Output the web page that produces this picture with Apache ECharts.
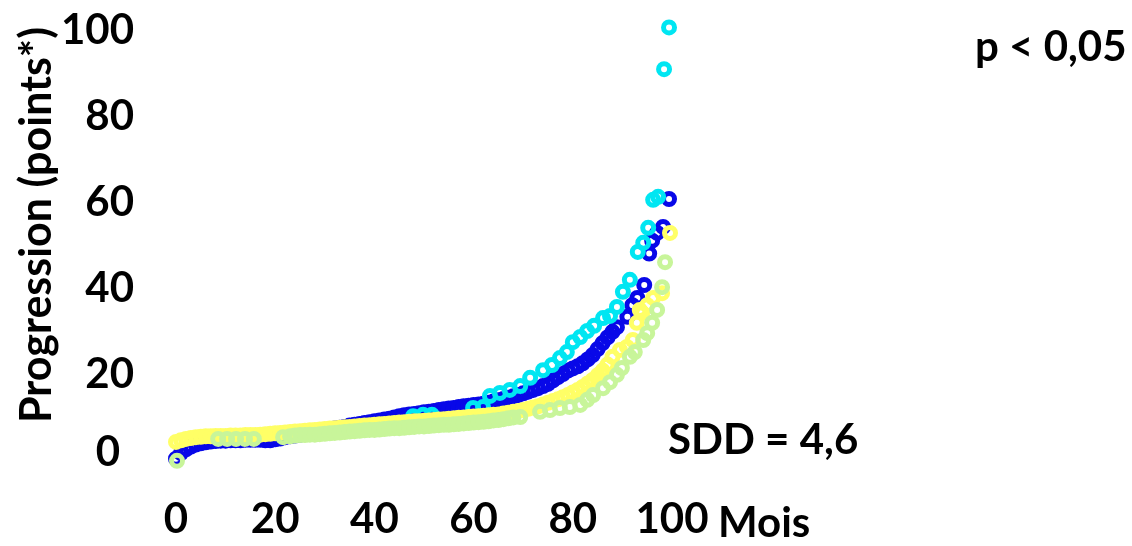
<!DOCTYPE html>
<html>
<head>
<meta charset="utf-8">
<script src="https://cdn.jsdelivr.net/npm/echarts@6/dist/echarts.min.js"></script>
<style>
html,body{margin:0;padding:0;background:#fff;}
#c{width:1132px;height:546px;}
</style>
</head>
<body>
<div id="c"></div>
<script>
// ---- data ----
const xTickLabels = ['0', '20', '40', '60', '80', '100'];
const yTickLabels = ['0', '20', '40', '60', '80', '100'];

const blueX = [0,1,2,3,4,5,6,7,8,9,10,11,12,13,14,15,16,17,18,19,20,21,22,23,24,25,26,27,28,29,30,31,32,33,34,35,36,37,38,39,40,41,42,43,44,45,46,47,48,49,50,51,52,53,54,55,56,57,58,59,60,61,62,63,64,65,66,67,68,69,70,71,72,73,74,75,76,77,78,79,80,81,82,83,84,85,86,87,88,88.9,91,92,93,94.4,95.4,96,97,98.2,99.4];
const blueY = [0.3,1.6,2.5,3.1,3.6,3.9,4.1,4.3,4.4,4.5,4.5,4.6,4.6,4.6,4.7,4.7,4.7,4.7,4.6,4.6,4.8,5.0,5.3,5.5,5.7,5.9,6.1,6.3,6.5,6.7,6.9,7.1,7.3,7.5,7.7,8.0,8.2,8.4,8.6,8.8,9.0,9.2,9.4,9.6,9.9,10.2,10.4,10.6,10.7,10.9,11.1,11.2,11.4,11.6,11.8,12.0,12.1,12.3,12.5,12.6,12.8,12.9,13.1,13.3,13.6,13.9,14.2,14.5,14.8,15.1,15.5,15.9,16.3,16.7,17.2,17.7,18.5,19.3,20.0,20.8,21.3,21.8,22.5,23.4,24.4,25.8,27.2,28.5,29.8,30.9,33.3,36.0,37.7,40.7,48.0,51.0,52.8,54.2,60.7];

const cyanX = [47.8,49.8,51.6,59.9,61.9,63.3,65.3,67.3,69.4,71.4,74.0,75.8,77.4,78.8,80.0,81.5,82.9,84.3,86.1,87.5,88.9,90.1,91.5,93.1,94.2,95.2,96.2,97.2,98.4,99.4];
const cyanY = [10.2,10.5,10.5,12.1,12.3,14.9,15.6,16.3,17.2,19.1,20.9,22.1,23.7,25.1,27.4,28.6,30.0,31.2,33.0,33.5,35.6,39.1,41.9,48.4,50.5,54.0,60.5,61.2,90.9,100.6];

const yellowX = [0,1,2,3,4,5,6,7,8,9,10,11,12,13,14,15,16,17,18,19,20,21,22,23,24,25,26,27,28,29,30,31,32,33,34,35,36,37,38,39,40,41,42,43,44,45,46,47,48,49,50,51,52,53,54,55,56,57,58,59,60,61,62,63,64,65,66,67,68,69,70,71,72,73,74,75,76,77,78,79,80,81,82,83,84,85,86,87,88,89.5,90.9,92.1,92.9,93.5,94.0,95.0,96.2,98.0,99.6];
const yellowY = [4.2,4.6,4.9,5.1,5.3,5.4,5.5,5.5,5.6,5.6,5.6,5.7,5.7,5.7,5.8,5.8,5.8,5.9,6.0,6.1,6.2,6.3,6.4,6.5,6.6,6.7,6.8,6.9,7.0,7.1,7.2,7.3,7.4,7.5,7.6,7.7,7.8,7.9,8.0,8.1,8.2,8.3,8.4,8.5,8.6,8.7,8.8,8.9,9.0,9.0,9.1,9.2,9.3,9.4,9.5,9.6,9.7,9.8,9.9,10.0,10.1,10.2,10.3,10.4,10.5,10.6,10.8,11.0,11.2,11.4,11.6,11.9,12.2,12.5,12.9,13.3,13.7,14.1,14.6,15.1,15.7,16.3,17.0,17.8,18.6,19.7,20.8,22.2,24.0,25.6,26.3,27.9,31.9,34.9,34.2,36.0,37.7,38.8,52.8];

const greenX = [0.2,8.5,10.3,12.1,13.9,15.7,21.6,23,24,25,26,27,28,29,30,31,32,33,34,35,36,37,38,39,40,41,42,43,44,45,46,47,48,49,50,51,52,53,54,55,56,57,58,59,60,61,62,63,64,65,66,67,68,69.4,73.4,75.4,77.4,79.4,81.5,82.9,84.1,86.1,87.5,88.9,89.9,91.5,92.5,94.2,95.0,96.0,97.0,98.0,98.6];
const greenY = [-0.2,4.9,4.9,4.9,4.9,4.9,5.3,5.5,5.7,5.8,5.8,5.9,5.9,6.0,6.1,6.2,6.3,6.4,6.5,6.6,6.7,6.8,6.9,7.0,7.0,7.1,7.2,7.3,7.4,7.4,7.5,7.6,7.7,7.8,7.8,7.9,8.0,8.1,8.2,8.2,8.3,8.4,8.5,8.6,8.7,8.8,8.9,9.0,9.2,9.3,9.5,9.7,9.9,10.0,11.2,11.6,12.1,12.3,12.8,14.0,15.1,16.7,18.1,19.8,21.4,24.0,25.1,27.9,29.5,31.9,34.9,40.2,46.0];

const yAxisTitle = 'Progression (points*)';
const xAxisTitle = 'Mois';
const pText = 'p < 0,05';
const sddText = 'SDD = 4,6';

// ---- chart ----
const FONT = 'Lato';
const FS = 42;
function pairs(xs, ys) { return xs.map((x, i) => [x, ys[i]]); }
function ring(name, xs, ys, color) {
  return {
    name: name, type: 'scatter', data: pairs(xs, ys),
    symbol: 'circle', symbolSize: 11, clip: false,
    itemStyle: { color: 'rgba(0,0,0,0)', borderColor: color, borderWidth: 5, opacity: 1 },
    emphasis: { disabled: true }, silent: true, animation: false
  };
}

const chart = echarts.init(document.getElementById('c'), null, { renderer: 'canvas' });
chart.setOption({
  animation: false,
  backgroundColor: '#ffffff',
  grid: { left: 176, right: 460, top: 30, bottom: 86 },
  xAxis: {
    type: 'value', min: 0, max: 100, interval: 20,
    axisLine: { show: false }, axisTick: { show: false }, splitLine: { show: false },
    axisLabel: {
      margin: 38, fontFamily: FONT, fontWeight: 'bold', fontSize: FS, color: '#000',
      formatter: function (v) { const i = xTickLabels.indexOf(String(v)); return i >= 0 ? xTickLabels[i] : ''; }
    }
  },
  yAxis: {
    type: 'value', min: 0, max: 100, interval: 20,
    axisLine: { show: false }, axisTick: { show: false }, splitLine: { show: false },
    axisLabel: {
      margin: 42, fontFamily: FONT, fontWeight: 'bold', fontSize: FS, color: '#000',
      formatter: function (v) {
        const i = yTickLabels.indexOf(String(v));
        if (i < 0) return '';
        return i === 0 ? '{z|' + yTickLabels[i] + '}' : yTickLabels[i];
      },
      rich: { z: { fontFamily: FONT, fontWeight: 'bold', fontSize: FS, color: '#000', padding: [0, 14, 16, 0] } }
    }
  },
  graphic: [
    { type: 'text', x: 37, y: 225, rotation: Math.PI / 2,
      style: { text: yAxisTitle, fontFamily: FONT, fontWeight: 'bold', fontSize: 43, fill: '#000', textAlign: 'center', textVerticalAlign: 'middle' } },
    { type: 'text', x: 718, y: 523,
      style: { text: xAxisTitle, fontFamily: FONT, fontWeight: 'bold', fontSize: FS, fill: '#000', textAlign: 'left', textVerticalAlign: 'middle' } },
    { type: 'text', x: 975, y: 47,
      style: { text: pText, fontFamily: FONT, fontWeight: 'bold', fontSize: FS, fill: '#000', textAlign: 'left', textVerticalAlign: 'middle' } },
    { type: 'text', x: 668, y: 440,
      style: { text: sddText, fontFamily: FONT, fontWeight: 'bold', fontSize: FS, fill: '#000', textAlign: 'left', textVerticalAlign: 'middle' } }
  ],
  series: [
    ring('blue', blueX, blueY, '#0808e8'),
    ring('cyan', cyanX, cyanY, '#00e6f2'),
    ring('yellow', yellowX, yellowY, '#ffff66'),
    ring('green', greenX, greenY, '#c8f59a')
  ]
});
</script>
</body>
</html>
